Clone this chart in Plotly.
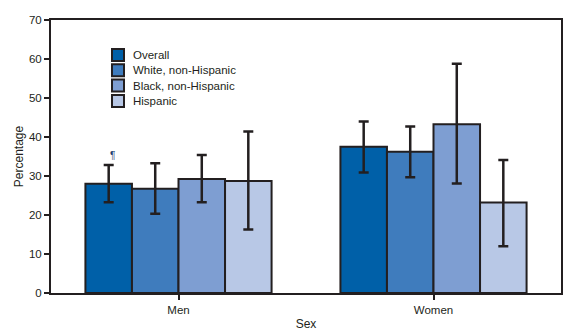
import plotly.graph_objects as go

categories = ["Men", "Women"]
groups = ["Overall", "White, non-Hispanic", "Black, non-Hispanic", "Hispanic"]
values = {
    "Overall": [28.0, 37.5],
    "White, non-Hispanic": [26.7, 36.2],
    "Black, non-Hispanic": [29.2, 43.3],
    "Hispanic": [28.7, 23.2],
}
upper_ci = {
    "Overall": [32.8, 44.0],
    "White, non-Hispanic": [33.3, 42.7],
    "Black, non-Hispanic": [35.4, 58.8],
    "Hispanic": [41.4, 34.1],
}
lower_ci = {
    "Overall": [23.3, 30.9],
    "White, non-Hispanic": [20.3, 29.7],
    "Black, non-Hispanic": [23.3, 28.1],
    "Hispanic": [16.3, 12.0],
}
colors = ["#0060A8", "#3F7CBD", "#7E9ED2", "#B8C8E6"]
ink = "#231F20"
font = "Liberation Sans, Arial, sans-serif"

W, H = 587, 332
ML, MR, MT, MB = 51, 26, 20, 39
PW, PH = W - ML - MR, H - MT - MB

fig = go.Figure()
for g, c in zip(groups, colors):
    v = values[g]
    up = [u - x for u, x in zip(upper_ci[g], v)]
    dn = [x - l for l, x in zip(lower_ci[g], v)]
    fig.add_trace(go.Bar(
        x=categories, y=v, name=g, showlegend=False,
        marker=dict(color=c, line=dict(color=ink, width=2)),
        error_y=dict(type="data", array=up, arrayminus=dn, color=ink,
                     thickness=2.5, width=5, visible=True),
    ))

# Legend drawn as shapes + text (paper coordinates)
def px_x(p):
    return (p - ML) / PW

def px_y(p):
    return (H - MB - p) / PH

box = 12
row_gap = 15.3
x0 = 112
y_top = 49
for i, (g, c) in enumerate(zip(groups, colors)):
    top = y_top + i * row_gap
    fig.add_shape(type="rect", xref="paper", yref="paper",
                  x0=px_x(x0), x1=px_x(x0 + box),
                  y0=px_y(top + box), y1=px_y(top),
                  fillcolor=c, line=dict(color=ink, width=2))
    fig.add_annotation(xref="paper", yref="paper", x=px_x(x0 + 19),
                       y=px_y(top + box / 2), text=g, showarrow=False,
                       xanchor="left", yanchor="middle",
                       font=dict(family=font, size=11.5, color=ink))

fig.add_annotation(x="Men", y=values["Overall"][0] + 7.2, xref="x", yref="y",
                   text="¶", showarrow=False, xshift=-66,
                   font=dict(family=font, size=10, color="#1F3F6F"))

fig.update_layout(
    width=W, height=H,
    margin=dict(l=ML, r=MR, t=MT, b=MB, autoexpand=False),
    paper_bgcolor="white", plot_bgcolor="white",
    barmode="group", bargap=0.27, bargroupgap=0,
    font=dict(family=font, size=11, color=ink),
    showlegend=False,
    xaxis=dict(showline=True, linecolor=ink, linewidth=2, mirror=True,
               automargin=False,
               ticks="outside", ticklen=5, tickwidth=2, tickcolor=ink,
               title=dict(text="Sex", font=dict(size=12), standoff=5),
               tickfont=dict(size=11.5)),
    yaxis=dict(range=[0, 70], dtick=10, showline=True, linecolor=ink,
               linewidth=2, mirror=True, showgrid=False, zeroline=False,
               automargin=False,
               ticks="outside", ticklen=5, tickwidth=2, tickcolor=ink,
               title=dict(text="Percentage", font=dict(size=12), standoff=3),
               tickfont=dict(size=11.5)),
)

fig.write_html("out.html")
